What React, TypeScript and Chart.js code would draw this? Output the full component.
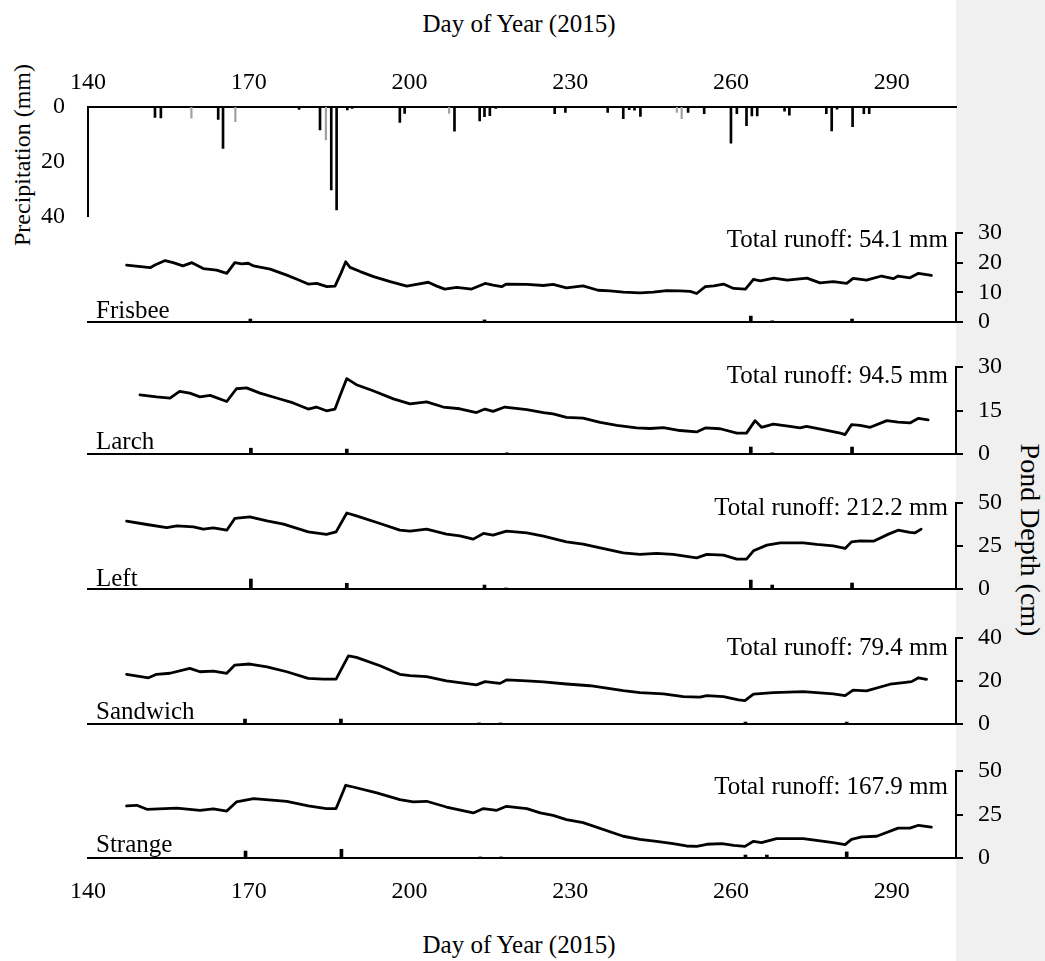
import React, { useEffect, useRef } from 'react';
import { Chart, registerables } from 'chart.js';

Chart.register(...registerables);

// ---------------- data ----------------
const X_MIN = 140;
const X_MAX = 302;
const DAY_TICKS = [140, 170, 200, 230, 260, 290];

// Precipitation (mm), black bars
const RAIN_DAY = [152.5, 153.6, 164.3, 165.2, 179.4, 183.3, 185.4, 186.4, 188.4, 189.3, 198.2, 199.1, 208.4, 213.1, 214.0, 215.0, 216.1, 227.1, 229.1, 237.0, 239.9, 241.0, 242.0, 243.1, 252.0, 255.0, 260.0, 261.1, 262.9, 263.9, 264.9, 270.0, 270.9, 277.8, 278.8, 279.8, 282.7, 284.8, 285.8];
const RAIN_MM = [3.8, 4.0, 4.5, 15.1, 0.9, 8.4, 30.3, 37.6, 1.1, 0.5, 5.6, 2.3, 8.8, 5.1, 3.5, 3.2, 0.5, 2.4, 2.0, 2.0, 4.3, 1.0, 1.2, 3.4, 2.0, 2.4, 13.2, 2.4, 6.8, 3.3, 3.3, 1.5, 3.0, 2.4, 8.7, 0.8, 7.2, 2.4, 2.4];
// Precipitation (mm), grey bars
const RAIN2_DAY = [159.3, 167.5, 184.4, 207.4, 249.9, 250.8];
const RAIN2_MM = [4.1, 5.4, 12.0, 2.3, 2.0, 4.3];
const RAIN_TICKS = [0, 20, 40];

const POND_NAMES = ['Frisbee', 'Larch', 'Left', 'Sandwich', 'Strange'];
const RUNOFF_MM = [54.1, 94.5, 212.2, 79.4, 167.9];
const DEPTH_MAX = [30, 30, 50, 40, 50];
const DEPTH_TICKS = [[0, 10, 20, 30], [0, 15, 30], [0, 25, 50], [0, 20, 40], [0, 25, 50]];

const FRISBEE_DAY = [147.2, 151.6, 152.5, 154.4, 155.9, 157.7, 159.4, 161.5, 164.0, 165.9, 167.4, 168.7, 169.9, 170.9, 174.0, 177.1, 179.0, 181.1, 182.7, 184.6, 186.1, 187.2, 188.1, 188.9, 190.8, 193.3, 196.4, 199.5, 201.3, 203.5, 205.1, 206.6, 208.8, 211.6, 214.1, 215.6, 217.2, 218.1, 221.9, 225.0, 226.8, 229.3, 232.4, 235.2, 237.4, 239.9, 243.0, 245.5, 248.0, 250.5, 252.4, 253.6, 255.2, 256.8, 258.6, 260.5, 262.7, 264.2, 265.5, 268.0, 270.5, 274.2, 276.6, 279.1, 281.6, 282.8, 285.3, 288.1, 290.3, 291.2, 293.4, 295.0, 297.4];
const FRISBEE_CM = [19.2, 18.3, 19.2, 20.7, 20.0, 18.9, 20.0, 18.0, 17.5, 16.4, 20.0, 19.6, 19.8, 18.9, 17.8, 15.8, 14.4, 12.8, 13.0, 11.9, 12.1, 16.4, 20.3, 18.4, 17.0, 15.3, 13.6, 12.1, 12.7, 13.4, 12.1, 11.1, 11.7, 11.1, 13.0, 12.4, 11.9, 12.8, 12.7, 12.3, 12.7, 11.5, 12.2, 10.7, 10.5, 10.1, 9.8, 10.1, 10.6, 10.5, 10.3, 9.6, 11.9, 12.2, 12.8, 11.3, 11.1, 14.4, 13.9, 14.8, 14.1, 14.8, 13.2, 13.6, 13.0, 14.7, 14.1, 15.5, 14.6, 15.5, 14.9, 16.4, 15.7];

const LARCH_DAY = [149.7, 152.8, 155.3, 157.1, 159.0, 160.9, 162.8, 165.9, 167.7, 169.6, 172.1, 175.2, 178.3, 181.1, 182.6, 184.5, 186.1, 187.0, 188.3, 190.1, 193.2, 197.0, 200.1, 203.2, 206.3, 209.4, 212.5, 214.1, 215.6, 217.8, 221.9, 225.0, 226.8, 229.3, 232.4, 235.6, 238.7, 242.4, 244.9, 247.4, 250.5, 253.6, 255.2, 258.0, 261.1, 262.9, 264.5, 265.7, 267.9, 271.0, 272.9, 274.1, 277.2, 280.4, 281.3, 282.5, 284.1, 286.0, 289.1, 291.2, 293.4, 295.0, 296.8];
const LARCH_CM = [20.4, 19.7, 19.3, 21.6, 21.0, 19.7, 20.2, 18.1, 22.5, 22.8, 21.0, 19.3, 17.6, 15.5, 16.2, 14.9, 15.5, 19.9, 26.0, 23.9, 21.8, 19.0, 17.3, 18.0, 16.2, 15.6, 14.3, 15.5, 14.7, 16.2, 15.3, 14.3, 13.8, 12.6, 12.4, 10.9, 9.9, 9.0, 8.8, 9.1, 8.1, 7.6, 9.0, 8.7, 7.2, 7.2, 11.5, 9.2, 10.3, 9.5, 9.0, 9.5, 8.4, 7.2, 6.7, 10.1, 9.9, 9.2, 11.5, 11.0, 10.7, 12.3, 11.8];

const LEFT_DAY = [147.2, 151.0, 154.7, 156.6, 159.7, 161.5, 163.4, 165.9, 167.4, 170.2, 173.4, 176.5, 181.1, 184.5, 186.3, 188.3, 190.1, 194.5, 198.2, 200.1, 203.2, 206.9, 209.4, 211.9, 213.8, 215.6, 218.1, 221.9, 225.0, 229.3, 232.4, 235.6, 239.9, 243.0, 246.1, 249.2, 253.6, 255.5, 258.6, 261.1, 262.9, 264.2, 266.7, 269.2, 273.5, 276.0, 279.1, 281.3, 282.5, 284.1, 286.6, 289.4, 291.2, 293.4, 294.3, 295.5];
const LEFT_CM = [39.4, 37.5, 35.7, 36.7, 36.1, 34.8, 35.5, 34.2, 41.0, 41.9, 39.6, 37.7, 33.2, 31.7, 33.2, 44.2, 42.5, 38.1, 34.2, 33.6, 34.8, 31.9, 30.9, 29.0, 32.3, 31.3, 33.6, 32.6, 30.7, 27.4, 26.1, 23.9, 21.0, 20.1, 20.7, 20.1, 18.1, 20.1, 19.7, 17.4, 17.4, 22.2, 25.5, 26.8, 26.8, 25.9, 25.1, 23.6, 27.4, 28.0, 27.8, 31.9, 34.2, 32.9, 32.6, 34.8];

const SANDWICH_DAY = [147.2, 151.3, 152.8, 155.3, 159.0, 160.9, 163.4, 165.9, 167.4, 170.2, 173.4, 177.1, 181.1, 183.9, 186.3, 188.6, 190.1, 194.5, 198.2, 200.1, 203.2, 206.9, 212.5, 214.1, 216.9, 218.1, 221.9, 225.0, 229.3, 233.7, 239.9, 243.0, 247.4, 251.1, 254.2, 255.5, 258.6, 261.4, 262.6, 264.2, 267.9, 273.5, 276.0, 279.1, 281.3, 282.8, 285.3, 289.7, 292.2, 293.7, 295.0, 296.5];
const SANDWICH_CM = [23.1, 21.5, 23.1, 23.6, 25.9, 24.3, 24.6, 23.6, 27.4, 27.9, 26.6, 24.3, 21.2, 20.9, 20.9, 31.7, 31.0, 27.1, 23.1, 22.5, 22.0, 20.1, 18.2, 19.7, 18.9, 20.5, 20.1, 19.6, 18.6, 17.8, 15.5, 14.6, 14.0, 12.7, 12.5, 13.2, 12.7, 11.2, 10.9, 13.9, 14.6, 15.1, 14.6, 14.0, 13.2, 15.8, 15.4, 18.5, 19.2, 19.7, 21.5, 20.8];

const STRANGE_DAY = [147.2, 149.1, 151.0, 156.6, 160.9, 163.4, 165.9, 167.7, 170.9, 177.1, 181.1, 184.5, 186.3, 188.1, 189.5, 193.9, 198.2, 200.7, 203.2, 206.9, 211.9, 213.8, 216.3, 218.1, 221.9, 224.4, 226.8, 229.3, 232.4, 239.9, 243.0, 246.1, 249.2, 251.7, 253.6, 255.5, 258.3, 260.5, 262.6, 264.2, 265.7, 268.5, 273.5, 279.1, 281.3, 282.5, 284.4, 287.2, 291.2, 293.4, 295.0, 297.4];
const STRANGE_CM = [29.9, 30.3, 28.0, 28.7, 27.4, 28.2, 27.0, 32.2, 34.1, 32.6, 29.9, 28.4, 28.4, 41.8, 40.8, 37.4, 33.6, 32.2, 32.6, 29.3, 25.9, 28.4, 27.4, 29.7, 28.4, 25.9, 24.5, 22.1, 20.3, 12.5, 10.7, 9.6, 8.3, 6.9, 6.7, 7.9, 8.3, 7.3, 6.7, 9.6, 8.8, 11.1, 11.1, 8.8, 7.7, 10.7, 12.1, 12.5, 17.2, 17.2, 18.8, 17.8];

// short event marks on each pond's baseline
const FRISBEE_EV_DAY = [170.3, 214.0, 263.7, 267.7, 282.6];
const FRISBEE_EV = [1.0, 0.7, 2.0, 0.4, 1.0];
const LARCH_EV_DAY = [170.4, 188.3, 218.2, 263.7, 267.7, 282.6];
const LARCH_EV = [2.0, 1.7, 0.4, 2.4, 0.4, 2.4];
const LEFT_EV_DAY = [170.4, 188.3, 214.0, 218.0, 263.7, 267.7, 282.6];
const LEFT_EV = [5.8, 3.3, 2.3, 0.6, 5.2, 2.3, 3.5];
const SANDWICH_EV_DAY = [169.3, 187.2, 213.0, 217.0, 262.7, 281.6];
const SANDWICH_EV = [2.3, 2.3, 0.5, 0.5, 0.9, 0.9];
const STRANGE_EV_DAY = [169.4, 187.3, 213.2, 217.1, 262.7, 266.7, 281.6];
const STRANGE_EV = [4.0, 5.0, 0.6, 0.6, 1.7, 1.7, 3.5];

const POND_DAYS = [FRISBEE_DAY, LARCH_DAY, LEFT_DAY, SANDWICH_DAY, STRANGE_DAY];
const POND_DEPTHS = [FRISBEE_CM, LARCH_CM, LEFT_CM, SANDWICH_CM, STRANGE_CM];
const EVENT_DAYS = [FRISBEE_EV_DAY, LARCH_EV_DAY, LEFT_EV_DAY, SANDWICH_EV_DAY, STRANGE_EV_DAY];
const EVENT_VALUES = [FRISBEE_EV, LARCH_EV, LEFT_EV, SANDWICH_EV, STRANGE_EV];

// ---------------- layout ----------------
const W = 1045;
const H = 961;
const PLOT_LEFT = 88;
const PLOT_RIGHT = 956;
const PANEL_TOP = [233, 367, 503, 638, 771];
const PANEL_BOTTOM = [322, 454, 589, 724, 858];
const RUNOFF_DY = [14, 16, 12, 17, 23];
const NAME_DY = [4, 5, 3, 5, 6];
const PAD_TOP = 20;
const PAD_BOTTOM = 16;
const FONT = { family: 'Liberation Serif', size: 24 };
const SERIF = '"Liberation Serif", "Times New Roman", serif';

const pts = (xs: number[], ys: number[]) => xs.map((x, k) => ({ x, y: ys[k] }));

const zeroPadY = (s: any) => { s.paddingTop = 0; s.paddingBottom = 0; };
const zeroPadX = (s: any) => { s.paddingLeft = 0; s.paddingRight = 0; };

const pondTextPlugin = {
  id: 'pondText',
  afterDraw(chart: any, _args: any, opts: any) {
    const { ctx, chartArea } = chart;
    ctx.save();
    ctx.font = `25px ${SERIF}`;
    ctx.fillStyle = '#000';
    ctx.textBaseline = 'alphabetic';
    ctx.textAlign = 'left';
    ctx.fillText(opts.name, chartArea.left + 8, chartArea.bottom - opts.nameDy);
    ctx.textAlign = 'right';
    ctx.fillText(opts.runoff, chartArea.right - 8, chartArea.top + opts.runoffDy);
    ctx.restore();
  },
};

function precipConfig(): any {
  return {
    type: 'bar',
    data: {
      datasets: [
        { data: pts(RAIN2_DAY, RAIN2_MM), backgroundColor: '#a0a0a0', barThickness: 1.5, grouped: false },
        { data: pts(RAIN_DAY, RAIN_MM), backgroundColor: '#000', barThickness: 2, grouped: false },
      ],
    },
    options: {
      animation: false,
      responsive: false,
      maintainAspectRatio: false,
      layout: { padding: { left: 0, right: W - PLOT_RIGHT, top: 0, bottom: 11.5 } },
      plugins: { legend: { display: false }, tooltip: { enabled: false } },
      scales: {
        x: {
          type: 'linear', position: 'top', min: X_MIN, max: X_MAX, offset: false,
          grid: { display: false, drawTicks: false },
          border: { display: true, color: '#000', width: 2 },
          ticks: { font: FONT, color: '#000', padding: 10, maxRotation: 0, autoSkip: false },
          afterBuildTicks: (s: any) => { s.ticks = DAY_TICKS.map((v) => ({ value: v })); },
          afterFit: (s: any) => { s.height = 67; zeroPadX(s); },
        },
        y: {
          type: 'linear', reverse: true, min: 0, max: 40,
          grid: { display: false, drawTicks: false },
          border: { display: true, color: '#000', width: 2 },
          ticks: { font: FONT, color: '#000', padding: 23, autoSkip: false },
          afterBuildTicks: (s: any) => { s.ticks = RAIN_TICKS.map((v) => ({ value: v })); },
          afterFit: (s: any) => { s.width = PLOT_LEFT; zeroPadY(s); },
        },
      },
    },
  };
}

function pondConfig(i: number): any {
  const isLast = i === POND_NAMES.length - 1;
  return {
    type: 'line',
    data: {
      datasets: [
        {
          type: 'line', data: pts(POND_DAYS[i], POND_DEPTHS[i]), borderColor: '#000', borderWidth: 2.8,
          pointRadius: 0, tension: 0, borderJoinStyle: 'round', borderCapStyle: 'round',
        },
        {
          type: 'bar', data: pts(EVENT_DAYS[i], EVENT_VALUES[i]), backgroundColor: '#000',
          barThickness: 3, grouped: false,
        },
      ],
    },
    plugins: [pondTextPlugin],
    options: {
      animation: false,
      responsive: false,
      maintainAspectRatio: false,
      layout: { padding: { left: PLOT_LEFT, right: 0, top: PAD_TOP, bottom: isLast ? 0 : PAD_BOTTOM } },
      plugins: {
        legend: { display: false },
        tooltip: { enabled: false },
        pondText: {
          name: POND_NAMES[i],
          runoff: `Total runoff: ${RUNOFF_MM[i].toFixed(1)} mm`,
          runoffDy: RUNOFF_DY[i],
          nameDy: NAME_DY[i],
        },
      },
      scales: {
        x: {
          type: 'linear', min: X_MIN, max: X_MAX, offset: false,
          grid: { display: false, drawTicks: false },
          border: { display: true, color: '#000', width: 2 },
          ticks: { display: isLast, font: FONT, color: '#000', padding: 19, maxRotation: 0, autoSkip: false },
          afterBuildTicks: (s: any) => { s.ticks = DAY_TICKS.map((v) => ({ value: v })); },
          afterFit: (s: any) => { s.height = isLast ? 60 : 4; zeroPadX(s); },
        },
        y: {
          type: 'linear', position: 'right', min: 0, max: DEPTH_MAX[i],
          grid: { drawOnChartArea: false, drawTicks: true, tickLength: 7, color: '#000', lineWidth: 2 },
          border: { display: true, color: '#000', width: 2 },
          ticks: { font: FONT, color: '#000', padding: 15, autoSkip: false },
          afterBuildTicks: (s: any) => { s.ticks = DEPTH_TICKS[i].map((v) => ({ value: v })); },
          afterFit: (s: any) => { s.width = W - PLOT_RIGHT; zeroPadY(s); },
        },
      },
    },
  };
}

function ChartBox({ top, height, make }: { top: number; height: number; make: () => any }) {
  const ref = useRef<HTMLCanvasElement | null>(null);
  useEffect(() => {
    if (!ref.current) return;
    const chart = new Chart(ref.current, make());
    return () => chart.destroy();
  }, []);
  return (
    <canvas
      ref={ref}
      width={W}
      height={height}
      style={{ position: 'absolute', left: 0, top, width: W, height }}
    />
  );
}

export default function App() {
  const textBase: React.CSSProperties = {
    position: 'absolute', fontFamily: SERIF, color: '#000', textAlign: 'center', whiteSpace: 'nowrap',
  };
  return (
    <div style={{ position: 'absolute', left: 0, top: 0, width: W, height: H, overflow: 'hidden', background: '#fff' }}>
      <div style={{ position: 'absolute', left: PLOT_RIGHT, top: 0, width: W - PLOT_RIGHT, height: H, background: '#f0f0f0' }} />
      <div style={{ ...textBase, left: 519 - 200, top: 11, width: 400, fontSize: 25, lineHeight: '25px' }}>Day of Year (2015)</div>
      <div style={{ ...textBase, left: 519 - 200, top: 932, width: 400, fontSize: 25, lineHeight: '25px' }}>Day of Year (2015)</div>
      <div style={{ ...textBase, left: 21.5 - 150, top: 155 - 12, width: 300, height: 24, fontSize: 24, lineHeight: '24px', transform: 'rotate(-90deg)' }}>Precipitation (mm)</div>
      <div style={{ ...textBase, left: 1030 - 150, top: 540 - 14, width: 300, height: 28, fontSize: 28, lineHeight: '28px', transform: 'rotate(90deg)' }}>Pond Depth (cm)</div>
      <ChartBox top={40} height={188} make={precipConfig} />
      {POND_NAMES.map((name, i) => {
        const isLast = i === POND_NAMES.length - 1;
        const h = PAD_TOP + (PANEL_BOTTOM[i] - PANEL_TOP[i]) + (isLast ? 60 : 4 + PAD_BOTTOM);
        return <ChartBox key={name} top={PANEL_TOP[i] - PAD_TOP} height={h} make={() => pondConfig(i)} />;
      })}
    </div>
  );
}
